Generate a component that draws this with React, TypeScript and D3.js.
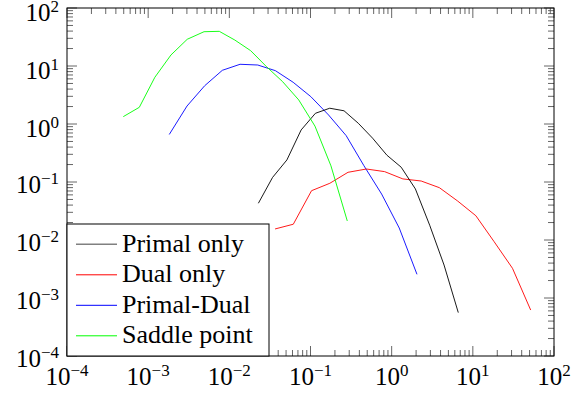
import React from "react";
import * as d3 from "d3";

// ---- data ----
const xDomain = [1e-4, 1e2];
const yDomain = [1e-4, 1e2];
const majorExponents = [-4, -3, -2, -1, 0, 1, 2];

const primalOnlyX = [0.0228, 0.0341, 0.0512, 0.0767, 0.115, 0.1726, 0.259, 0.388, 0.582, 0.873, 1.31, 1.96, 2.94, 4.42, 6.62];
const primalOnlyY = [0.043, 0.12, 0.24, 0.79, 1.53, 1.87, 1.69, 1.03, 0.57, 0.29, 0.18, 0.076, 0.018, 0.0037, 0.00056];

const dualOnlyX = [0.0366, 0.0614, 0.103, 0.173, 0.29, 0.488, 0.818, 1.374, 2.31, 3.87, 6.5, 10.9, 18.3, 30.8, 51.6];
const dualOnlyY = [0.0155, 0.0187, 0.0708, 0.095, 0.147, 0.1675, 0.151, 0.113, 0.104, 0.0798, 0.047, 0.0262, 0.00935, 0.00325, 0.00062];

const primalDualX = [0.00182, 0.00301, 0.00497, 0.0082, 0.01355, 0.0224, 0.037, 0.0611, 0.101, 0.167, 0.275, 0.455, 0.752, 1.24, 2.05];
const primalDualY = [0.66, 2.04, 4.57, 8.43, 10.7, 10.4, 8.3, 5.24, 2.96, 1.43, 0.63, 0.191, 0.062, 0.0161, 0.00256];

const saddleX = [0.000494, 0.000778, 0.00121, 0.00191, 0.00303, 0.00488, 0.00752, 0.0117, 0.0183, 0.0288, 0.0454, 0.0716, 0.1135, 0.1786, 0.284];
const saddleY = [1.34, 1.94, 6.4, 15.5, 28.9, 39, 39.6, 28, 18.4, 9.7, 5.36, 2.6, 0.92, 0.19, 0.0213];

const legendLabels = ["Primal only", "Dual only", "Primal-Dual", "Saddle point"];
const legendColors = ["#808080", "#ff0000", "#0000ff", "#00ff00"];

const series = [
  { x: primalDualX, y: primalDualY, color: "#0000ff" },
  { x: dualOnlyX, y: dualOnlyY, color: "#ff0000" },
  { x: primalOnlyX, y: primalOnlyY, color: "#000000" },
  { x: saddleX, y: saddleY, color: "#00ff00" },
];

const W = 571, H = 396;
const L = 67, R = 554, T = 8, B = 356;
const FF = "Liberation Serif";

export default function App() {
  const x = d3.scaleLog().domain(xDomain).range([L, R]);
  const y = d3.scaleLog().domain(yDomain).range([B, T]);
  const line = d3.line<[number, number]>().x((d) => x(d[0])).y((d) => y(d[1]));

  const minors: number[] = [];
  for (let e = -4; e < 2; e++) for (let m = 2; m <= 9; m++) minors.push(m * Math.pow(10, e));
  const majors = majorExponents.map((e) => Math.pow(10, e));

  const sup = (e: number) => (e < 0 ? "\u2212" + Math.abs(e) : String(e));
  const tickStroke = "#555";
  const tw = 0.9;

  const legX = L, legY = 224, legW = 202, legH = 132, rowH = 30.5, row0 = 244.3;

  return (
    <svg width={W} height={H} style={{ position: "absolute", left: 0, top: 0 }}>
      <rect x={0} y={0} width={W} height={H} fill="#fff" />
      {/* ticks */}
      <g stroke={tickStroke} strokeWidth={tw}>
        {minors.map((v, i) => (
          <g key={"mx" + i}>
            <line x1={x(v)} x2={x(v)} y1={B} y2={B - 6} />
            <line x1={x(v)} x2={x(v)} y1={T} y2={T + 6} />
            <line y1={y(v)} y2={y(v)} x1={L} x2={L + 6} />
            <line y1={y(v)} y2={y(v)} x1={R} x2={R - 6} />
          </g>
        ))}
        {majors.map((v, i) => (
          <g key={"Mx" + i}>
            <line x1={x(v)} x2={x(v)} y1={B} y2={B - 10} />
            <line x1={x(v)} x2={x(v)} y1={T} y2={T + 10} />
            <line y1={y(v)} y2={y(v)} x1={L} x2={L + 10} />
            <line y1={y(v)} y2={y(v)} x1={R} x2={R - 10} />
          </g>
        ))}
      </g>
      {/* series */}
      {series.map((s, i) => (
        <path
          key={i}
          d={line(s.x.map((v, j) => [v, s.y[j]] as [number, number])) || ""}
          fill="none"
          stroke={s.color}
          strokeWidth={0.9}
        />
      ))}
      {/* frame */}
      <rect x={L} y={T} width={R - L} height={B - T} fill="none" stroke="#000" strokeWidth={1} />
      {/* tick labels */}
      {majorExponents.map((e, i) => (
        <text key={"yl" + i} x={59} y={y(Math.pow(10, e)) + (e >= 0 ? 12.5 : 10.5)} textAnchor="end" fontSize={25} fontFamily={FF} fill="#000">
          10<tspan fontSize={17} dy={-9}>{sup(e)}</tspan>
        </text>
      ))}
      {majorExponents.map((e, i) => (
        <text key={"xl" + i} x={x(Math.pow(10, e))} y={385} textAnchor="middle" fontSize={25} fontFamily={FF} fill="#000">
          10<tspan fontSize={17} dy={-9}>{sup(e)}</tspan>
        </text>
      ))}
      {/* legend */}
      <rect x={legX} y={legY} width={legW} height={legH} fill="#fff" stroke="#000" strokeWidth={1} />
      {legendLabels.map((lab, i) => (
        <g key={lab}>
          <line x1={76} x2={117} y1={row0 + i * rowH} y2={row0 + i * rowH} stroke={legendColors[i]} strokeWidth={i === 0 ? 1.5 : 1} />
          <text x={122} y={row0 + i * rowH + 7.5} fontFamily={FF} fontSize={26} fill="#000">
            {lab}
          </text>
        </g>
      ))}
    </svg>
  );
}
